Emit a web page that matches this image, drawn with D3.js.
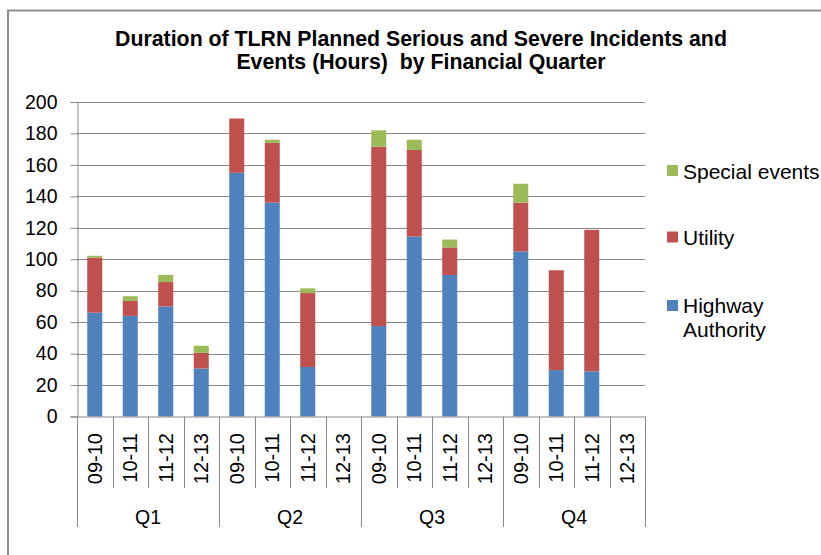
<!DOCTYPE html>
<html><head><meta charset="utf-8">
<script src="https://cdn.jsdelivr.net/npm/d3@7"></script>
<style>
html,body{margin:0;padding:0;background:#fff;overflow:hidden}
svg{display:block;font-family:"Liberation Sans",Arial,sans-serif}
</style></head>
<body>
<script>
const quarters = ["Q1","Q2","Q3","Q4"];
const years = ["09-10","10-11","11-12","12-13"];
const highway = [66,64,70,30.5, 155,136,31.5,0, 57.5,114.5,90,0, 105,29.5,28.7,0];
const utility = [35,9.5,15.5,10, 34.5,38,47,0, 114,55,17.5,0, 31,63.5,90,0];
const special = [1.2,3,4.5,4.5, 0,2,3,0, 10.5,6.5,5,0, 12,0,0,0];
const yTicks = [0,20,40,60,80,100,120,140,160,180,200];
const seriesNames = ["Highway Authority","Utility","Special events"];
const colors = ["#4F81BD","#C0504D","#9BBB59"];
const titleLines = ["Duration of TLRN Planned Serious and Severe Incidents and","Events (Hours)  by Financial Quarter"];

(function(){
const W=821,H=555;
const svg=d3.select("body").append("svg").attr("width",W).attr("height",H);
const pL=77,pR=645,pT=102,pB=416.5;
const gridC="#888888";

svg.append("rect").attr("x",8).attr("y",10.5).attr("width",W+20).attr("height",H+20)
  .attr("fill","none").attr("stroke","#8e8e8e").attr("stroke-width",2);

const keys=[];
quarters.forEach(q=>years.forEach(y=>keys.push(q+"|"+y)));
const rows=keys.map((k,i)=>({key:k,q:k.split("|")[0],yr:k.split("|")[1],hw:highway[i],ut:utility[i],se:special[i]}));

const x=d3.scaleBand().domain(keys).range([pL,pR]).padding(0);
const xq=d3.scaleBand().domain(quarters).range([pL,pR]).padding(0);
const y=d3.scaleLinear().domain([0,200]).range([pB,pT]);

svg.append("g").selectAll("line").data(yTicks.filter(t=>t>0)).join("line")
  .attr("x1",pL).attr("x2",pR).attr("y1",d=>Math.round(y(d))+0.5).attr("y2",d=>Math.round(y(d))+0.5)
  .attr("stroke",gridC).attr("stroke-width",1);

const yAxis=d3.axisLeft(y).tickValues(yTicks).tickSize(7).tickPadding(13);
const ga=svg.append("g").attr("transform",`translate(${pL+0.5},0)`).call(yAxis);
ga.select(".domain").attr("stroke",gridC);
ga.selectAll(".tick line").attr("stroke",gridC);
ga.selectAll(".tick text").attr("font-size",19.5).attr("fill","#000").attr("font-family","Liberation Sans, Arial, sans-serif");

const stack=d3.stack().keys(["hw","ut","se"])(rows);
const bw=15;
svg.append("g").selectAll("g").data(stack).join("g").attr("fill",(d,i)=>colors[i])
  .selectAll("rect").data(d=>d).join("rect")
  .attr("x",d=>x(d.data.key)+x.bandwidth()/2-bw/2)
  .attr("width",bw)
  .attr("y",d=>y(d[1]))
  .attr("height",d=>Math.max(0,y(d[0])-y(d[1])));

svg.append("line").attr("x1",pL).attr("x2",pR).attr("y1",pB+0.5).attr("y2",pB+0.5).attr("stroke",gridC);

const sepG=svg.append("g");
keys.forEach((k,i)=>{
  const xx=Math.round(x(k))+0.5;
  const isGroup=(i%4===0);
  sepG.append("line").attr("x1",xx).attr("x2",xx).attr("y1",pB).attr("y2",isGroup?527:488).attr("stroke",gridC);
});
sepG.append("line").attr("x1",pR+0.5).attr("x2",pR+0.5).attr("y1",pB).attr("y2",527).attr("stroke",gridC);

svg.append("g").selectAll("text").data(rows).join("text")
  .attr("transform",d=>`translate(${x(d.key)+x.bandwidth()/2},433) rotate(-90)`)
  .attr("text-anchor","end").attr("dy","0.35em").attr("font-size",20).text(d=>d.yr);

svg.append("g").selectAll("text").data(quarters).join("text")
  .attr("x",d=>xq(d)+xq.bandwidth()/2).attr("y",524).attr("text-anchor","middle").attr("font-size",19.5).text(d=>d);

const tl=svg.append("g");
titleLines.forEach((t,i)=>{
  tl.append("text").attr("x",421).attr("y",i===0?46:69).attr("text-anchor","middle")
    .style("white-space","pre").attr("xml:space","preserve")
    .attr("font-size",21.3).attr("font-weight","bold").text(t);
});

const legItems=[
  {c:colors[2],sq:165,lines:["Special events"],base:179},
  {c:colors[1],sq:231.5,lines:["Utility"],base:245},
  {c:colors[0],sq:300,lines:["Highway","Authority"],base:313}
];
const lg=svg.append("g");
legItems.forEach(it=>{
  lg.append("rect").attr("x",667).attr("y",it.sq).attr("width",11).attr("height",11).attr("fill",it.c);
  it.lines.forEach((l,j)=>{
    lg.append("text").attr("x",683).attr("y",it.base+j*23.5).attr("font-size",21).text(l);
  });
});
})();
</script>
</body></html>
